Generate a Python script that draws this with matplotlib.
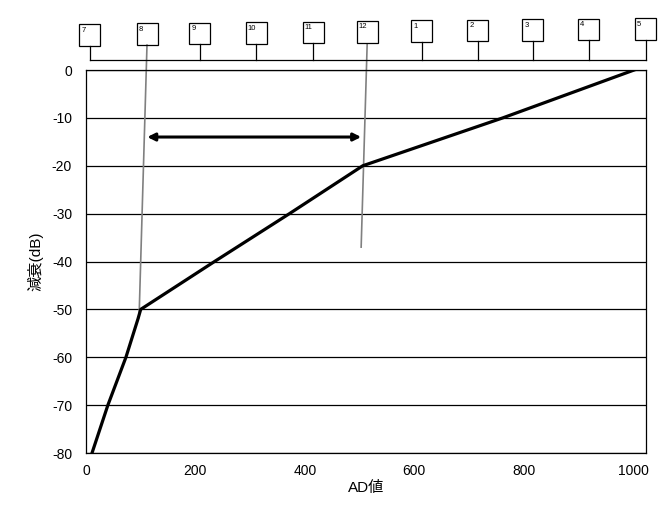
import matplotlib
matplotlib.use("Agg")
import matplotlib.pyplot as plt
from matplotlib.patches import Rectangle

plt.rcParams['font.family'] = ['Liberation Sans', 'Noto Sans CJK JP', 'DejaVu Sans']
plt.rcParams['axes.unicode_minus'] = False

# ---- data ----
ad_values = [11, 40, 73, 95, 100, 235, 372, 506, 762, 1002]
attenuation_db = [-80, -70, -60, -52, -50, -40, -30, -20, -10, 0]

month_labels = ["7", "8", "9", "10", "11", "12", "1", "2", "3", "4", "5"]
month_ad = [7, 112, 208, 311, 415, 514, 614, 716, 817, 919, 1023]

marker_line1_x = [111.5, 97]
marker_line1_y = [5.2, -51.7]
marker_line2_x = [514, 503]
marker_line2_y = [5.4, -37]

arrow_x = [112, 503]
arrow_y = -14

yticks = list(range(-80, 1, 10))
xticks = [0, 200, 400, 600, 800, 1000]

# ---- figure ----
W, H = 658, 505
fig = plt.figure(figsize=(W / 100, H / 100), dpi=100)
L, R, T, B = 86, 645.6, 70, 453
ax = fig.add_axes([L / W, 1 - B / H, (R - L) / W, (B - T) / H])
ax.set_xlim(0, 1023)
ax.set_ylim(-80, 0)

for yv in yticks:
    ax.axhline(yv, color='black', lw=0.9, zorder=1)

ax.plot(ad_values, attenuation_db, color='black', lw=2.3, solid_joinstyle='round', zorder=3)

ax.plot(marker_line1_x, marker_line1_y, color='#808080', lw=1.2, clip_on=False, zorder=2)
ax.plot(marker_line2_x, marker_line2_y, color='#808080', lw=1.2, clip_on=False, zorder=2)

ax.annotate('', xy=(arrow_x[0], arrow_y), xytext=(arrow_x[1], arrow_y),
            arrowprops=dict(arrowstyle='<|-|>', lw=2.2, color='black',
                            mutation_scale=11, shrinkA=0, shrinkB=0))

for s in ax.spines.values():
    s.set_color('black')
    s.set_linewidth(0.9)

ax.set_yticks(yticks)
ax.set_xticks(xticks)
ax.tick_params(axis='both', length=0, labelsize=10)
ax.tick_params(axis='y', pad=10)
ax.tick_params(axis='x', pad=8)
ax.set_xlabel('AD値', fontsize=11, labelpad=2)
ax.set_ylabel('減衰(dB)', fontsize=11, labelpad=6)

# ---- top month timeline (y in pixels from top of figure) ----
axt = fig.add_axes([L / W, 1 - T / H, (R - L) / W, T / H])
axt.set_xlim(0, 1023)
axt.set_ylim(T, 0)
axt.axis('off')

px_per_ad = (R - L) / 1023
bw = 21 / px_per_ad
bh = 21.5
line_y = 60
axt.plot([month_ad[0], month_ad[-1]], [line_y, line_y], color='black', lw=0.9, clip_on=False)
n = len(month_ad)
for i, (xa, lab) in enumerate(zip(month_ad, month_labels)):
    top = 24 - 6 * i / (n - 1)
    bottom = top + bh
    axt.add_patch(Rectangle((xa - bw / 2, top), bw, bh, fill=False, edgecolor='black',
                            lw=0.9, clip_on=False))
    axt.text(xa - bw / 2 + 2 / px_per_ad, top + 2.5, lab, fontsize=5.5, ha='left', va='top',
             clip_on=False)
    if i not in (1, 5):
        axt.plot([xa, xa], [bottom, line_y], color='black', lw=0.9, clip_on=False)

fig.savefig('out.png', dpi=100)
